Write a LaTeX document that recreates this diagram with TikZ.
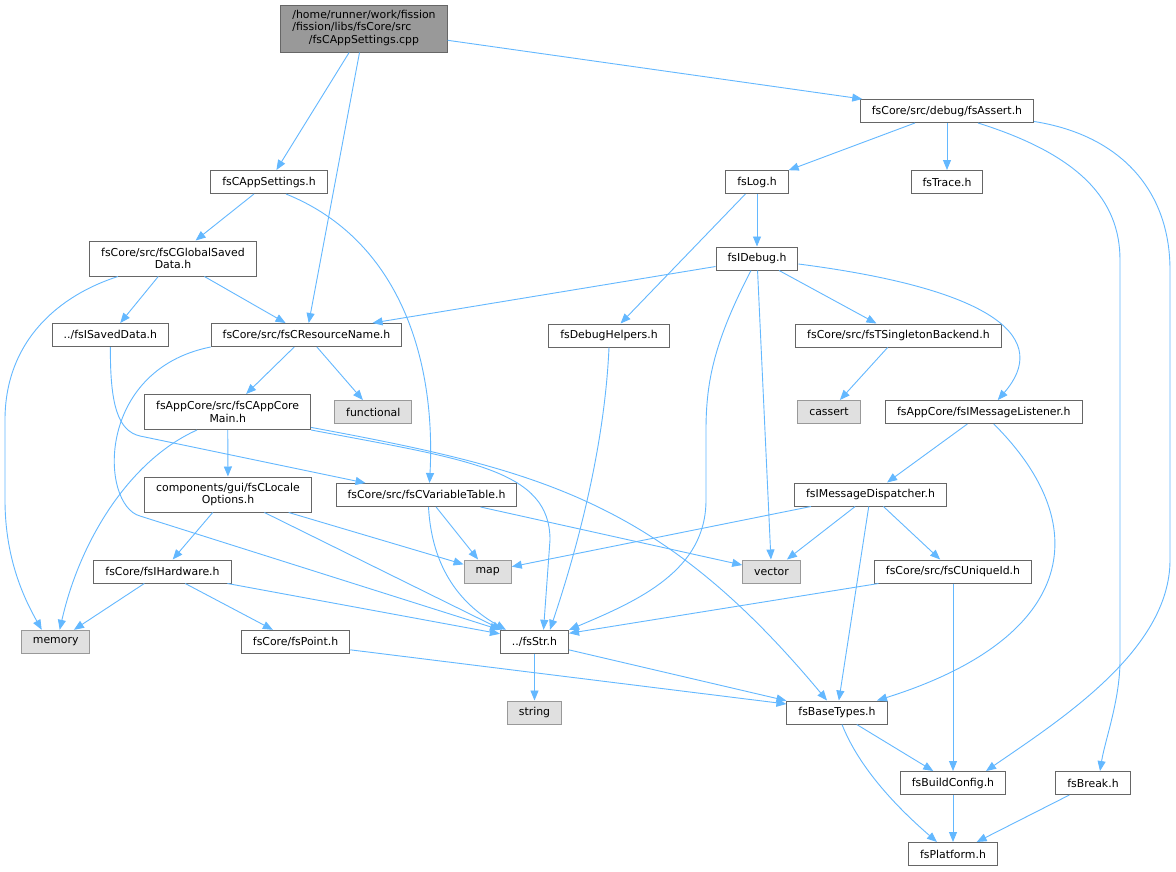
\documentclass[tikz,border=0pt]{standalone}
\usepackage{fontspec}
\setmainfont{DejaVu Sans}
\usetikzlibrary{arrows.meta}

\definecolor{edgeblue}{HTML}{63B8FF}
\definecolor{boxline}{HTML}{666666}
\definecolor{sysline}{HTML}{999999}
\definecolor{sysfill}{HTML}{E0E0E0}
\definecolor{rootfill}{HTML}{999999}

\begin{document}
\begin{tikzpicture}[>={Triangle[length=10pt,width=8pt]}, x=1pt, y=-1pt,
    hdr/.style={draw=boxline, fill=white, line width=1pt, inner xsep=11.5pt,
      inner ysep=0pt, minimum height=23pt, font=\fontsize{10.9}{12.3}\selectfont},
    sys/.style={hdr, draw=sysline, fill=sysfill},
    dep/.style={->, draw=edgeblue, line width=0.9pt}]

    % Page
    \path[use as bounding box, fill=white] (0,0) rectangle (1176,871);

    % Source file
    \node[hdr, fill=rootfill, minimum height=47pt] (root) at (364,28.5)
      {\begin{tabular}{@{}l@{}}/home/runner/work/fission\\/fission/libs/fsCore/src\\\multicolumn{1}{@{}c@{}}{/fsCAppSettings.cpp}\end{tabular}};

    % Left part of the graph
    \node[hdr] (appset) at (269,182) {fsCAppSettings.h};
    \node[hdr, align=center, minimum height=35pt] (gsd) at (173,258.5) {fsCore/src/fsCGlobalSaved\\Data.h};
    \node[hdr] (savedata) at (110.4,335) {../fsISavedData.h};
    \node[hdr] (resname) at (306.5,335) {fsCore/src/fsCResourceName.h};
    \node[hdr, align=center, minimum height=35pt] (coremain) at (227.7,412) {fsAppCore/src/fsCAppCore\\Main.h};
    \node[sys] (functional) at (373.3,412) {functional};
    \node[hdr, align=center, minimum height=35pt] (locale) at (228,494.5) {components/gui/fsCLocale\\Options.h};
    \node[hdr] (vartable) at (426.5,495) {fsCore/src/fsCVariableTable.h};
    \node[hdr] (hardware) at (162.5,571.5) {fsCore/fsIHardware.h};
    \node[sys] (map) at (487.7,571.5) {map};
    \node[sys] (memory) at (55.7,641.8) {memory};
    \node[hdr] (point) at (295.6,641.8) {fsCore/fsPoint.h};
    \node[hdr] (fsstr) at (534.5,641.8) {../fsStr.h};
    \node[sys] (string) at (534.5,712.5) {string};

    % Right part of the graph
    \node[hdr] (assert) at (947,111) {fsCore/src/debug/fsAssert.h};
    \node[hdr] (fslog) at (757,182) {fsLog.h};
    \node[hdr] (fstrace) at (947,182) {fsTrace.h};
    \node[hdr] (fsidebug) at (757,258.5) {fsIDebug.h};
    \node[hdr] (dbghelp) at (609,335.5) {fsDebugHelpers.h};
    \node[hdr] (singleton) at (898.5,335.5) {fsCore/src/fsTSingletonBackend.h};
    \node[sys] (cassert) at (829,412) {cassert};
    \node[hdr] (listener) at (983.8,412) {fsAppCore/fsIMessageListener.h};
    \node[hdr] (dispatcher) at (870.6,494.5) {fsIMessageDispatcher.h};
    \node[sys] (vector) at (771.5,571.5) {vector};
    \node[hdr] (uniqueid) at (953,571.5) {fsCore/src/fsCUniqueId.h};
    \node[hdr] (basetypes) at (837,712.5) {fsBaseTypes.h};
    \node[hdr] (buildcfg) at (953,783) {fsBuildConfig.h};
    \node[hdr] (fsbreak) at (1093,783) {fsBreak.h};
    \node[hdr] (platform) at (953,854) {fsPlatform.h};

    % Includes of the source file
    \draw[dep] (root) -- (appset);
    \draw[dep] (root) -- (resname);
    \draw[dep] (root) -- (assert);

    % fsCAppSettings.h
    \draw[dep] (appset) -- (gsd);
    \draw[dep] ([xshift=17pt]appset.south) .. controls (400,240) and (436,360) .. ([xshift=3pt]vartable.north);

    % fsCGlobalSavedData.h
    \draw[dep] ([xshift=-55pt]gsd.south) .. controls (60,295) and (5,340) .. (5,420) -- (5,500)
      .. controls (5,560) and (25,600) .. ([xshift=-14pt]memory.north);
    \draw[dep] (gsd) -- (savedata);
    \draw[dep] (gsd) -- (resname);

    % ../fsISavedData.h
    \draw[dep] (savedata.south) .. controls (110,405) and (118,431) .. (140,436) -- ([xshift=-61pt]vartable.north);

    % fsCResourceName.h
    \draw[dep] (resname) -- (coremain);
    \draw[dep] (resname) -- (functional);
    \draw[dep] (resname.south west) .. controls (95,370) and (100,505) .. (140,516) -- (fsstr.north west);

    % fsCAppCoreMain.h
    \draw[dep] (coremain) -- (locale);
    \draw[dep] ([xshift=-30.7pt]coremain.south) .. controls (130,460) and (80,540) .. ([xshift=4pt]memory.north);
    \draw[dep] (coremain.south east) .. controls (470,460) and (550,470) .. (550,540) -- ([xshift=9pt]fsstr.north);
    \draw[dep] ([yshift=2.6pt]coremain.south east) .. controls (540,470) and (660,500) .. ([xshift=-10pt]basetypes.north);

    % fsCLocaleOptions.h
    \draw[dep] (locale) -- (hardware);
    \draw[dep] (locale) -- (map);
    \draw[dep] (locale) -- ([xshift=2pt]fsstr.north west);

    % fsCVariableTable.h
    \draw[dep] (vartable) -- (map);
    \draw[dep] ([xshift=2pt]vartable.south) .. controls (432,570) and (462,605) .. ([xshift=6pt]fsstr.north west);
    \draw[dep] (vartable) -- (vector);

    % fsIHardware.h and fsPoint.h
    \draw[dep] (hardware) -- (memory);
    \draw[dep] (hardware) -- (point);
    \draw[dep] (hardware) -- ([yshift=-4pt]fsstr.north west);
    \draw[dep] ([yshift=-8pt]point.east) -- ([yshift=8.5pt]basetypes.west);

    % ../fsStr.h
    \draw[dep] (fsstr) -- (string);
    \draw[dep] (fsstr) -- (basetypes);

    % fsAssert.h
    \draw[dep] (assert) -- (fslog);
    \draw[dep] (assert) -- (fstrace);
    \draw[dep] ([xshift=31pt]assert.south) .. controls (1080,155) and (1120,200) .. (1120,260) -- (1120,660)
      .. controls (1120,700) and (1105,740) .. ([xshift=7pt]fsbreak.north);
    \draw[dep] ([yshift=1.5pt]assert.south east) .. controls (1120,135) and (1170,190) .. (1170,270) -- (1170,560)
      .. controls (1170,650) and (1060,720) .. ([xshift=33pt]buildcfg.north);

    % fsLog.h
    \draw[dep] (fslog) -- (fsidebug);
    \draw[dep] (fslog) -- (dbghelp);

    % fsIDebug.h
    \draw[dep] ([yshift=-8pt]fsidebug.west) -- ([xshift=66pt]resname.north);
    \draw[dep] ([xshift=-6pt]fsidebug.south) .. controls (715,340) and (706,380) .. (706,430) -- (706,500)
      .. controls (706,570) and (640,600) .. (fsstr.north east);
    \draw[dep] (fsidebug) -- (vector);
    \draw[dep] (fsidebug) -- (singleton);
    \draw[dep] ([yshift=-5.5pt]fsidebug.east) .. controls (1000,290) and (1050,340) .. ([xshift=14pt]listener.north);

    % fsDebugHelpers.h and fsTSingletonBackend.h
    \draw[dep] (dbghelp.south) .. controls (604,460) and (570,570) .. ([xshift=15.5pt]fsstr.north);
    \draw[dep] (singleton) -- (cassert);

    % fsIMessageListener.h
    \draw[dep] (listener) -- (dispatcher);
    \draw[dep] ([xshift=10pt]listener.south) .. controls (1100,530) and (1070,640) .. ([xshift=40pt]basetypes.north);

    % fsIMessageDispatcher.h
    \draw[dep] (dispatcher) -- (map);
    \draw[dep] (dispatcher) -- (vector);
    \draw[dep] (dispatcher) -- (uniqueid);
    \draw[dep] (dispatcher) -- (basetypes);

    % fsCUniqueId.h
    \draw[dep] (uniqueid) -- ([yshift=-3.5pt]fsstr.north east);
    \draw[dep] (uniqueid) -- (buildcfg);

    % bottom of the graph
    \draw[dep] (basetypes) -- (buildcfg);
    \draw[dep] ([xshift=5pt]basetypes.south) .. controls (860,770) and (900,810) .. ([xshift=-16pt]platform.north);
    \draw[dep] (buildcfg) -- (platform);
    \draw[dep] (fsbreak) -- (platform);

\end{tikzpicture}
\end{document}
